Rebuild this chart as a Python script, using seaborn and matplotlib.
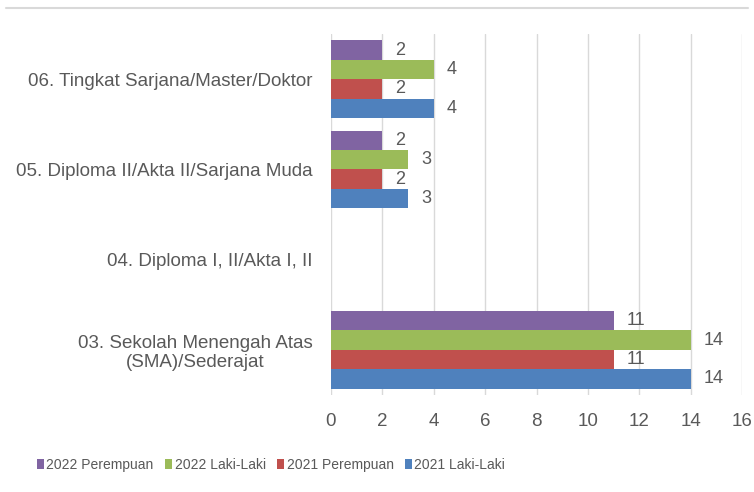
import numpy as np
import pandas as pd
import seaborn as sns
import matplotlib.pyplot as plt
from matplotlib.lines import Line2D
from matplotlib.patches import Patch

# Data (categories listed top to bottom)
categories = ['06. Tingkat Sarjana/Master/Doktor',
              '05. Diploma II/Akta II/Sarjana Muda',
              '04. Diploma I, II/Akta I, II',
              '03. Sekolah Menengah Atas\n(SMA)/Sederajat']
series = ['2022 Perempuan', '2022 Laki-Laki', '2021 Perempuan', '2021 Laki-Laki']
p2022 = [2, 2, 0, 11]
l2022 = [4, 3, 0, 14]
p2021 = [2, 2, 0, 11]
l2021 = [4, 3, 0, 14]
colors = ['#8064A2', '#9BBB59', '#C0504D', '#4F81BD']
x_ticks = [0, 2, 4, 6, 8, 10, 12, 14, 16]

rows = []
for name, vals in zip(series, [p2022, l2022, p2021, l2021]):
    for cat, v in zip(categories, vals):
        rows.append({'kategori': cat, 'seri': name, 'jumlah': v})
df = pd.DataFrame(rows)

sns.set_theme(style='white')
plt.rcParams['font.family'] = ['Liberation Sans', 'DejaVu Sans']
text_color = '#595959'

fig = plt.figure(figsize=(7.54, 4.92), dpi=100)
ax = fig.add_axes([331 / 754, 1 - 395 / 492, 411 / 754, 361 / 492])

sns.barplot(data=df, x='jumlah', y='kategori', hue='seri', orient='h',
            order=categories, hue_order=series, palette=colors,
            saturation=1, width=0.86, gap=0, linewidth=0, ax=ax,
            legend=False)

# Data labels (skip empty bars)
for container in ax.containers:
    labels = ['' if v == 0 else f'{v:g}' for v in container.datavalues]
    ax.bar_label(container, labels=labels, padding=9.5, fontsize=13,
                 color=text_color)

ax.set_xlim(0, 16)
ax.set_ylim(len(categories) - 0.5, -0.5)
ax.set_xticks(x_ticks)
ax.xaxis.grid(True, color='#D9D9D9', linewidth=1)
ax.set_axisbelow(True)
for side in ['top', 'right', 'bottom', 'left']:
    ax.spines[side].set_visible(False)
ax.tick_params(axis='both', length=0, labelsize=13.5, labelcolor=text_color)
ax.tick_params(axis='x', pad=13)
ax.tick_params(axis='y', pad=13)
for lbl in ax.get_yticklabels():
    lbl.set_horizontalalignment('right')
    lbl.set_multialignment('center')
ax.set_xlabel('')
ax.set_ylabel('')

# Legend at the bottom (small upright rectangles as keys)
handles = [Patch(facecolor=c, edgecolor='none') for c in colors]
fig.legend(handles, series, loc='center', ncol=4, frameon=False,
           bbox_to_anchor=(271 / 754, 1 - 465 / 492), fontsize=10,
           labelcolor=text_color, handletextpad=0.2,
           columnspacing=0.8, handlelength=0.5, handleheight=0.8)

# Thin frame line at the top of the chart
fig.add_artist(Line2D([6 / 754, 748 / 754], [1 - 7.5 / 492, 1 - 7.5 / 492],
                      color='#D9D9D9', linewidth=1.5))

fig.savefig('out.png', dpi=100)
